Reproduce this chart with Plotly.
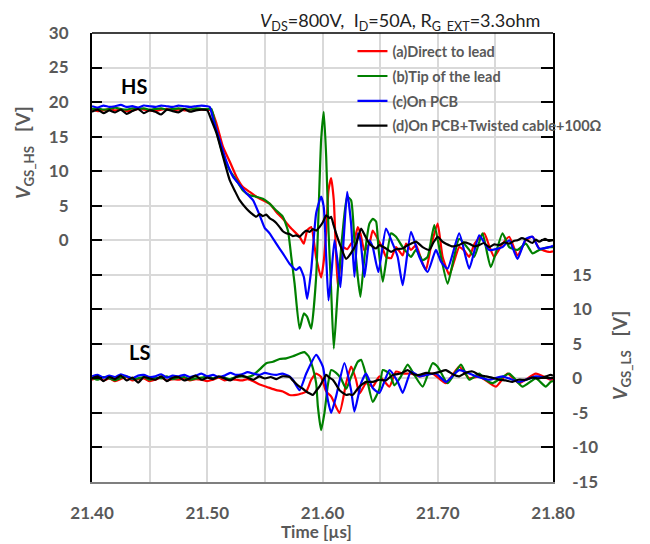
import plotly.graph_objects as go

# ---------------- data ----------------
X_TICKS = [21.40, 21.45, 21.50, 21.55, 21.60, 21.65, 21.70, 21.75, 21.80]
X_TICK_TEXT = ["21.40", "", "21.50", "", "21.60", "", "21.70", "", "21.80"]
Y_HS_TICKS = [-35, -30, -25, -20, -15, -10, -5, 0, 5, 10, 15, 20, 25, 30]
Y_HS_TEXT = ["", "", "", "", "", "", "", "0", "5", "10", "15", "20", "25", "30"]
Y_LS_TICKS = [-15, -10, -5, 0, 5, 10, 15, 20, 25, 30, 35, 40, 45, 50]
Y_LS_TEXT = ["-15", "-10", "-5", "0", "5", "10", "15", "", "", "", "", "", "", ""]

NAMES = ["(a)Direct to lead", "(b)Tip of the lead", "(c)On PCB", "(d)On PCB+Twisted cable+100Ω"]
COLORS = ["#ff0000", "#008000", "#0000ff", "#000000"]

# High side (left axis) -------------------------------------------
T_PRE_HS = [21.400, 21.405, 21.410, 21.415, 21.420, 21.425, 21.430, 21.435, 21.440, 21.445,
            21.450, 21.455, 21.460, 21.465, 21.470, 21.475, 21.480, 21.485, 21.490, 21.495, 21.500]
HS_RED_PRE = [18.9, 18.7, 18.8, 19.0, 18.8, 18.9, 18.7, 18.8, 19.0, 18.9, 18.8, 18.7, 18.9, 19.0, 18.8, 18.9, 18.8, 18.9, 19.0, 18.9, 18.9]
HS_GREEN_PRE = [19.0, 19.1, 18.9, 19.0, 19.2, 19.0, 18.9, 19.1, 19.0, 19.1, 18.9, 19.0, 19.1, 18.9, 19.0, 19.1, 19.0, 18.9, 19.1, 19.0, 19.0]
HS_BLUE_PRE = [19.4, 19.2, 19.5, 19.3, 19.4, 19.6, 19.3, 19.4, 19.2, 19.5, 19.4, 19.3, 19.5, 19.4, 19.3, 19.5, 19.4, 19.3, 19.4, 19.5, 19.4]
HS_BLACK_PRE = [18.6, 18.9, 18.4, 18.8, 18.5, 18.9, 18.3, 18.7, 19.0, 18.4, 18.8, 18.6, 18.2, 18.9, 18.7, 18.5, 19.0, 18.6, 18.8, 18.9, 18.8]

HS_RED_POST = [(21.5036, 18.8), (21.5080, 16.9), (21.5137, 13.5), (21.5195, 11.4), (21.5253, 9.2), (21.5310, 7.7),
               (21.5368, 7.0), (21.5426, 6.3), (21.5483, 5.8), (21.5541, 5.3), (21.5599, 4.1), (21.5656, 3.1),
               (21.5729, 1.7), (21.5801, 0.5), (21.5838, -0.5), (21.5867, 1.4), (21.5902, 1.9), (21.5945, -2.5),
               (21.5988, -5.4), (21.6011, -3.0), (21.6032, 1.4), (21.6052, 7.2), (21.6075, 9.0), (21.6098, 5.8),
               (21.6133, -6.8), (21.6176, -1.0), (21.6214, -1.3), (21.6248, -0.5), (21.6277, 0.0), (21.6306, 1.9),
               (21.6329, 1.0), (21.6364, -1.5), (21.6407, -0.5), (21.6436, 1.4), (21.6485, 0.0), (21.6522, -1.2),
               (21.6551, -2.4), (21.6595, -2.6), (21.6638, -1.0), (21.6696, -2.2), (21.6725, -0.5), (21.6768, -1.4),
               (21.6811, -0.7), (21.6869, -3.4), (21.6898, -4.3), (21.6940, -1.0), (21.6999, 2.4), (21.7042, -2.4),
               (21.7100, -5.0), (21.7143, -3.0), (21.7186, -1.0), (21.7230, -1.5), (21.7273, -2.4), (21.7320, -0.5),
               (21.7403, 1.0), (21.7450, -1.0), (21.7490, -2.4), (21.7562, -0.5), (21.7620, 0.5), (21.7692, -2.2),
               (21.7764, 0.0), (21.7822, 0.5), (21.7880, -1.2), (21.7966, -1.7), (21.8000, -1.6)]

HS_GREEN_POST = [(21.5036, 19.0), (21.5080, 15.9), (21.5137, 12.3), (21.5195, 10.1), (21.5253, 8.7), (21.5310, 7.2),
                 (21.5368, 6.5), (21.5426, 6.3), (21.5483, 6.0), (21.5541, 5.3), (21.5599, 4.3), (21.5656, 3.4),
                 (21.5700, 1.4), (21.5729, -2.4), (21.5758, -6.3), (21.5801, -12.8), (21.5838, -10.6), (21.5867, -11.1),
                 (21.5902, -12.8), (21.5945, -5.3), (21.5988, 14.5), (21.6011, 18.6), (21.6032, 12.1), (21.6052, 1.4),
                 (21.6075, -7.2), (21.6098, -15.7), (21.6133, -7.2), (21.6176, 1.4), (21.6214, 6.3), (21.6248, 5.8),
                 (21.6277, 0.0), (21.6306, -5.3), (21.6329, -8.2), (21.6364, -2.4), (21.6407, 2.4), (21.6436, 3.1),
                 (21.6465, 2.7), (21.6485, -1.0), (21.6523, -6.0), (21.6595, 1.0), (21.6638, 0.5), (21.6696, -1.0),
                 (21.6768, -2.4), (21.6811, -1.4), (21.6869, -2.9), (21.6912, -2.4), (21.6970, 2.2), (21.7028, -2.4),
                 (21.7086, -6.3), (21.7186, 0.2), (21.7273, -1.4), (21.7316, -2.4), (21.7388, 1.0), (21.7460, -3.9),
                 (21.7562, 1.0), (21.7620, -1.0), (21.7692, -1.4), (21.7764, -0.5), (21.7822, -1.9), (21.7880, -1.4),
                 (21.7966, -1.0), (21.8000, -1.0)]

HS_BLUE_POST = [(21.5022, 19.3), (21.5050, 17.6), (21.5108, 14.5), (21.5166, 11.4), (21.5223, 9.2), (21.5281, 8.0),
                (21.5339, 6.8), (21.5397, 5.8), (21.5455, 3.6), (21.5498, 1.8), (21.5541, 1.0), (21.5599, -0.5),
                (21.5656, -1.9), (21.5714, -3.4), (21.5772, -4.3), (21.5801, -3.9), (21.5838, -5.3), (21.5867, -8.5),
                (21.5902, -4.3), (21.5945, 3.9), (21.5988, 6.3), (21.6011, 4.8), (21.6032, -2.4), (21.6052, -8.7),
                (21.6075, -5.3), (21.6104, 0.0), (21.6130, -3.0), (21.6156, -6.8), (21.6185, 0.5), (21.6214, 7.0),
                (21.6248, 2.4), (21.6277, -5.3), (21.6306, 1.0), (21.6329, 0.0), (21.6364, -5.3), (21.6407, 0.0),
                (21.6436, -1.0), (21.6485, -4.6), (21.6551, 1.7), (21.6609, -0.5), (21.6652, -2.4), (21.6696, -6.5),
                (21.6768, 1.2), (21.6840, -2.4), (21.6912, -4.6), (21.6984, -1.4), (21.7028, -3.1), (21.7086, -4.1),
                (21.7186, 1.0), (21.7273, -4.1), (21.7360, 0.7), (21.7446, -1.4), (21.7562, -1.0), (21.7620, 0.0),
                (21.7692, -2.7), (21.7764, 0.2), (21.7822, 0.5), (21.7880, -1.2), (21.7966, -1.0), (21.8000, -0.8)]

HS_BLACK_POST = [(21.5036, 17.4), (21.5080, 15.5), (21.5137, 12.1), (21.5195, 8.7), (21.5238, 7.2), (21.5281, 5.8),
                 (21.5339, 4.6), (21.5383, 3.9), (21.5426, 3.4), (21.5455, 3.8), (21.5483, 3.5), (21.5512, 3.7),
                 (21.5541, 3.2), (21.5570, 2.9), (21.5599, 2.5), (21.5628, 1.9), (21.5656, 1.3), (21.5685, 1.0),
                 (21.5714, 0.9), (21.5743, 0.6), (21.5772, 0.7), (21.5801, 0.5), (21.5830, 1.0), (21.5859, 1.4),
                 (21.5888, 1.2), (21.5916, 1.6), (21.5945, 1.4), (21.5974, 1.9), (21.6003, 2.6), (21.6032, 3.6),
                 (21.6060, 3.2), (21.6075, 3.4), (21.6096, 2.2), (21.6118, 1.0), (21.6160, -1.0), (21.6205, -2.7),
                 (21.6250, -1.8), (21.6292, -0.5), (21.6335, 1.7), (21.6370, 0.6), (21.6407, -0.5), (21.6465, -1.2),
                 (21.6494, -0.7), (21.6551, -1.2), (21.6595, -1.7), (21.6638, -1.3), (21.6696, -1.2), (21.6730, -0.8),
                 (21.6768, -0.5), (21.6811, -0.2), (21.6869, -1.0), (21.6927, -1.4), (21.6960, -0.4), (21.6999, 0.5),
                 (21.7040, -0.2), (21.7071, -0.5), (21.7130, -0.9), (21.7186, -0.7), (21.7230, -0.3), (21.7273, -0.5),
                 (21.7320, -0.9), (21.7360, -0.7), (21.7400, -0.4), (21.7446, -1.0), (21.7490, -0.6), (21.7533, -0.7),
                 (21.7580, -0.3), (21.7620, -0.5), (21.7660, -0.1), (21.7692, 0.0), (21.7730, 0.3), (21.7764, 0.1),
                 (21.7822, -0.4), (21.7850, 0.1), (21.7880, -0.2), (21.7930, 0.2), (21.7966, -0.1), (21.8000, 0.0)]

# Low side (right axis) -------------------------------------------
T_PRE_LS = [21.400, 21.405, 21.410, 21.415, 21.420, 21.425, 21.430, 21.435, 21.440, 21.445,
            21.450, 21.455, 21.460, 21.465, 21.470, 21.475, 21.480, 21.485, 21.490, 21.495,
            21.500, 21.505, 21.510, 21.515, 21.520, 21.525, 21.530, 21.535, 21.540]
LS_RED_PRE = [-0.2, 0.1, -0.3, 0.0, -0.4, -0.1, 0.2, -0.3, -0.1, 0.0, -0.4, -0.2, 0.1, -0.3, -0.1,
              -0.2, 0.0, -0.3, -0.1, -0.2, -0.4, -0.2, 0.1, -0.3, -0.1, -0.2, -0.3, -0.1, -0.4]
LS_GREEN_PRE = [0.1, -0.2, 0.2, 0.0, -0.3, 0.1, 0.3, -0.1, 0.0, 0.2, -0.2, 0.1, 0.0, 0.3, -0.1,
                0.1, 0.2, -0.2, 0.0, 0.1, 0.3, 0.0, 0.2, 0.1, -0.1, 0.2, 0.3, 0.2, 0.5]
LS_BLUE_PRE = [0.3, 0.5, 0.1, 0.4, 0.2, 0.6, 0.3, 0.0, 0.4, 0.5, 0.2, 0.3, 0.6, 0.1, 0.4,
               0.3, 0.5, 0.2, 0.4, 0.7, 0.3, 0.5, 0.2, 0.4, 0.8, 0.5, 0.6, 0.9, 0.7]
LS_BLACK_PRE = [0.0, 0.3, -0.4, 0.2, -0.1, 0.4, -0.3, 0.1, -0.6, 0.2, 0.0, -0.2, 0.3, -0.4, 0.1,
                0.2, -0.3, 0.0, 0.4, -0.2, 0.1, -0.1, 0.3, 0.0, -0.3, 0.2, 0.4, 0.1, -0.2]

LS_RED_POST = [(21.5455, -0.9), (21.5512, -1.2), (21.5599, -1.7), (21.5656, -1.9), (21.5714, -2.4), (21.5772, -2.4),
               (21.5816, -2.2), (21.5859, -1.9), (21.5902, -0.2), (21.5945, 0.7), (21.5988, 0.2), (21.6032, -1.9),
               (21.6075, -2.6), (21.6147, -5.0), (21.6205, -0.7), (21.6248, 1.7), (21.6291, -0.2), (21.6320, -2.2),
               (21.6378, -0.7), (21.6436, -1.2), (21.6494, 0.3), (21.6581, -1.2), (21.6638, 1.0), (21.6696, 0.7),
               (21.6768, 0.7), (21.6840, 0.3), (21.6955, 0.7), (21.7071, -0.7), (21.7186, 1.7), (21.7273, 0.0),
               (21.7360, 0.3), (21.7504, -1.2), (21.7605, 0.7), (21.7706, -0.7), (21.7851, 0.7), (21.7980, -0.2),
               (21.8000, -0.1)]

LS_GREEN_POST = [(21.5455, 1.3), (21.5512, 2.2), (21.5570, 2.4), (21.5628, 2.8), (21.5685, 2.9), (21.5743, 3.2),
                 (21.5801, 3.6), (21.5844, 3.8), (21.5880, 3.2), (21.5916, 1.5), (21.5945, -0.7), (21.5960, -4.1),
                 (21.5988, -7.5), (21.6017, -5.0), (21.6046, -1.0), (21.6075, 1.2), (21.6118, 0.8), (21.6160, 0.0),
                 (21.6205, -1.5), (21.6248, 0.2), (21.6306, 2.4), (21.6335, 2.7), (21.6378, 0.5), (21.6436, -3.4),
                 (21.6494, -1.5), (21.6523, 1.2), (21.6581, 0.7), (21.6624, -1.0), (21.6681, 0.3), (21.6739, 2.0),
                 (21.6797, 0.5), (21.6869, -1.2), (21.6955, 2.2), (21.6999, 1.7), (21.7086, -0.7), (21.7201, 2.0),
                 (21.7273, -0.2), (21.7360, 0.7), (21.7417, -0.2), (21.7475, -0.7), (21.7620, 0.7), (21.7735, -1.2),
                 (21.7851, 0.0), (21.7937, -1.2), (21.7980, -0.5), (21.8000, -0.4)]

LS_BLUE_POST = [(21.545, 0.5), (21.550, 0.8), (21.555, 0.6), (21.560, 0.5), (21.565, 0.7),
                (21.5714, 0.3), (21.5743, -0.2), (21.5801, -1.7), (21.5859, 0.7), (21.5945, 3.4), (21.6003, 1.7),
                (21.6046, -3.1), (21.6075, -5.0), (21.6118, -2.6), (21.6190, 2.2), (21.6248, -1.7), (21.6277, -4.8),
                (21.6335, -0.7), (21.6378, 0.7), (21.6436, -1.4), (21.6494, -2.1), (21.6581, 1.2), (21.6653, -0.5),
                (21.6696, -2.1), (21.6768, 1.0), (21.6840, 0.3), (21.6984, 0.7), (21.7071, -0.5), (21.7186, 1.2),
                (21.7330, 0.3), (21.7446, -0.2), (21.7562, 0.3), (21.7706, -0.5), (21.7851, 0.3), (21.7980, 0.0),
                (21.8000, 0.1)]

LS_BLACK_POST = [(21.545, 0.3), (21.550, 0.0), (21.555, 0.2), (21.560, -0.1), (21.565, 0.3),
                 (21.5714, 0.2), (21.5743, -0.3), (21.5801, -1.2), (21.5830, -1.5), (21.5859, -1.9), (21.5890, -2.2),
                 (21.5916, -2.4), (21.5945, -1.8), (21.5974, -1.2), (21.6003, -0.3), (21.6032, 0.5), (21.6060, 0.1),
                 (21.6089, -0.2), (21.6118, -0.9), (21.6147, -1.7), (21.6176, -2.1), (21.6205, -2.4), (21.6233, -2.3),
                 (21.6262, -2.4), (21.6291, -1.8), (21.6320, -1.2), (21.6350, -0.8), (21.6378, -0.5), (21.6436, -0.5),
                 (21.6494, -0.2), (21.6551, -0.3), (21.6609, 0.5), (21.6680, 0.7), (21.6739, 1.2), (21.6790, 0.6),
                 (21.6840, 0.5), (21.6900, 0.8), (21.6955, 0.7), (21.7010, 0.9), (21.7071, 1.2), (21.7130, 0.6),
                 (21.7186, 0.3), (21.7240, 0.8), (21.7302, 1.0), (21.7360, 0.5), (21.7417, 0.3), (21.7475, 0.1),
                 (21.7533, -0.2), (21.7590, -0.3), (21.7648, -0.5), (21.7700, -0.2), (21.7764, -0.2), (21.7820, 0.1),
                 (21.7879, 0.0), (21.7940, 0.3), (21.7980, 0.5), (21.8000, 0.4)]


def series(pre_t, pre_v, post):
    assert len(pre_t) == len(pre_v), (len(pre_t), len(pre_v))
    t = list(pre_t) + [p[0] for p in post]
    v = list(pre_v) + [p[1] for p in post]
    return t, v


HS = [series(T_PRE_HS, HS_RED_PRE, HS_RED_POST),
      series(T_PRE_HS, HS_GREEN_PRE, HS_GREEN_POST),
      series(T_PRE_HS, HS_BLUE_PRE, HS_BLUE_POST),
      series(T_PRE_HS, HS_BLACK_PRE, HS_BLACK_POST)]
LS = [series(T_PRE_LS, LS_RED_PRE, LS_RED_POST),
      series(T_PRE_LS, LS_GREEN_PRE, LS_GREEN_POST),
      series(T_PRE_LS, LS_BLUE_PRE, LS_BLUE_POST),
      series(T_PRE_LS, LS_BLACK_PRE, LS_BLACK_POST)]

# ---------------- figure ----------------
FONT = "Lato, 'Open Sans', sans-serif"
GRAY = "#595959"
GRID = "#d9d9d9"

fig = go.Figure()
for i in range(4):
    t, v = HS[i]
    fig.add_trace(go.Scatter(x=t, y=v, mode="lines", name=NAMES[i], legendgroup=str(i),
                             line=dict(color=COLORS[i], width=2.2, shape="spline", smoothing=0.5),
                             yaxis="y"))
    t, v = LS[i]
    fig.add_trace(go.Scatter(x=t, y=v, mode="lines", name=NAMES[i], legendgroup=str(i), showlegend=False,
                             line=dict(color=COLORS[i], width=2.2, shape="spline", smoothing=0.5),
                             yaxis="y2"))

tickfont = dict(family=FONT, size=17, color=GRAY, weight="bold")

# the page body adds an 8px offset, so the margins compensate for it
fig.update_layout(
    width=642, height=544,
    margin=dict(l=84, r=97, t=25, b=70),
    paper_bgcolor="white", plot_bgcolor="white",
    showlegend=True,
    legend=dict(x=0.565, y=0.995, xanchor="left", yanchor="top", bgcolor="rgba(0,0,0,0)",
                font=dict(family=FONT, size=14.5, color=GRAY, weight="bold"),
                traceorder="grouped", tracegroupgap=3, borderwidth=0),
    xaxis=dict(range=[21.40, 21.80], tickmode="array", tickvals=X_TICKS, ticktext=X_TICK_TEXT,
               showgrid=True, gridcolor=GRID, gridwidth=1.5, zeroline=False,
               showline=True, linecolor="#7f7f7f", linewidth=2, ticks="",
               tickfont=tickfont, ticklabelstandoff=15),
    yaxis=dict(range=[-35, 30], tickmode="array", tickvals=Y_HS_TICKS, ticktext=Y_HS_TEXT,
               showgrid=True, gridcolor=GRID, gridwidth=1.5, zeroline=False,
               showline=True, linecolor="black", linewidth=2,
               ticks="inside", ticklen=10, tickcolor="black", tickwidth=1.5,
               tickfont=tickfont, ticklabelstandoff=18),
    yaxis2=dict(range=[-15, 50], overlaying="y", side="right", tickmode="array",
                tickvals=Y_LS_TICKS, ticktext=Y_LS_TEXT, showgrid=False, zeroline=False,
                showline=True, linecolor="black", linewidth=1.5,
                ticks="inside", ticklen=12, tickcolor="black", tickwidth=1.5,
                tickfont=tickfont, ticklabelstandoff=14),
    shapes=[dict(type="line", xref="paper", yref="paper", x0=0, x1=1, y0=1, y1=1,
                 line=dict(color="black", width=1.5))],
)

ann_font = dict(family=FONT, size=19, color=GRAY, weight="bold")
common = dict(xref="paper", yref="paper", showarrow=False, xanchor="center", yanchor="middle")
fig.add_annotation(text="<i>V</i><sub>DS</sub>=800V,&nbsp; I<sub>D</sub>=50A, R<sub>G_EXT</sub>=3.3ohm",
                   x=0.668, y=1.0245, font=dict(family=FONT, size=18, color="#222222"), **common)
fig.add_annotation(text="<i>V</i><sub>GS_HS</sub>&nbsp;&nbsp; [V]", textangle=-90,
                   x=-0.1475, y=0.733, font=ann_font, **common)
fig.add_annotation(text="<i>V</i><sub>GS_LS</sub>&nbsp;&nbsp; [V]", textangle=-90,
                   x=1.1475, y=0.283, font=ann_font, **common)
fig.add_annotation(text="Time [µs]", x=0.488, y=-0.111,
                   font=dict(family=FONT, size=17, color=GRAY, weight="bold"), **common)
fig.add_annotation(text="HS", x=0.091, y=0.882,
                   font=dict(family=FONT, size=20, color="black", weight="bold"), **common)
fig.add_annotation(text="LS", x=0.104, y=0.29,
                   font=dict(family=FONT, size=20, color="black", weight="bold"), **common)

fig.write_html("out.html")
